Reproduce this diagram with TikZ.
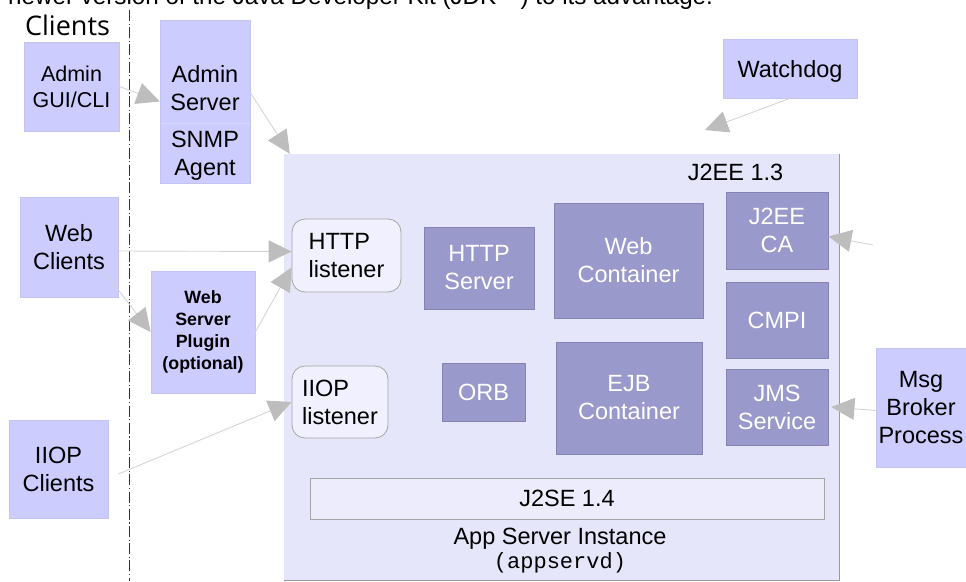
\documentclass[tikz,border=0pt]{standalone}
\usepackage{fontspec}
\setmainfont{Liberation Sans}
\setmonofont{Liberation Mono}
\newfontfamily\clientsfont{Open Sans}
\usetikzlibrary{arrows.meta}
\definecolor{lightc}{HTML}{CCCCFF}
\definecolor{lightb}{HTML}{C4C4F4}
\definecolor{darkc}{HTML}{9999CC}
\definecolor{darkb}{HTML}{8484B4}
\definecolor{appc}{HTML}{E6E6FA}
\definecolor{listc}{HTML}{F0F0FF}
\definecolor{linec}{HTML}{D4D4D4}
\definecolor{tipc}{HTML}{BDBDBD}
\newcommand\mysize{\fontsize{23.5}{28}\selectfont}
\newcommand\smallsize{\fontsize{21.5}{26}\selectfont}
\newcommand\plugsize{\fontsize{17.8}{22}\selectfont\bfseries}
\tikzset{
  lightbox/.style={fill=lightc, draw=lightb, line width=0.6pt, inner sep=0pt, align=center, text=black, font=\mysize},
  darkbox/.style={fill=darkc, draw=darkb, line width=0.8pt, inner sep=0pt, align=center, text=white, font=\mysize},
  listener/.style={fill=listc, draw=gray!70, line width=0.8pt, rounded corners=13pt, inner sep=0pt, align=left, font=\mysize},
  plain/.style={inner sep=0pt, font=\mysize},
  conn/.style={draw=linec, line width=0.9pt, -{Triangle[length=23pt,width=22pt,color=tipc]}},
  single/.style={text depth=0pt}
}
\begin{document}
\begin{tikzpicture}[x=1pt,y=-1pt]
\useasboundingbox (0,0) rectangle (966,581);

% cut-off caption line at the very top
\node[plain, font=\fontsize{24.2}{28}\selectfont, anchor=base west] (caption) at (8,4.5) {newer version of the Java Developer Kit (JDK™) to its advantage.};

% separator
\draw[line width=1pt, black!80, dash pattern=on 11pt off 2.5pt on 1.2pt off 2.5pt] (129,10) -- (129,581);
\node[inner sep=0pt, anchor=base, font=\clientsfont\fontsize{27}{30}\selectfont] (clients) at (67.5,35) {Clients};

% app server instance
\node[fill=appc, inner sep=0pt, minimum width=555pt, minimum height=426pt] (appsrv) at (561.5,367) {};
\draw[gray!80, line width=0.8pt] (appsrv.north east) -- (appsrv.south east) -- (appsrv.south west);
\node[plain, anchor=base] (j2ee) at (735.5,180) {J2EE 1.3};

\node[darkbox, minimum width=149pt, minimum height=115pt] (webcont) at (628.5,260.5) {Web\\Container};
\node[darkbox, minimum width=146pt, minimum height=112pt] (ejbcont) at (629,398) {EJB\\Container};
\node[darkbox, minimum width=102pt, minimum height=77pt] (j2eeca) at (777,230.5) {J2EE\\CA};
\node[darkbox, single, minimum width=102pt, minimum height=76pt] (cmpi) at (777,320) {CMPI};
\node[darkbox, minimum width=102pt, minimum height=76pt] (jms) at (777,407) {JMS\\Service};
\node[darkbox, minimum width=110pt, minimum height=82pt] (httpsrv) at (479,268) {HTTP\\Server};
\node[darkbox, single, minimum width=83pt, minimum height=58pt] (orb) at (483.5,392) {ORB};

\node[listener, minimum width=109pt, minimum height=73pt] (httpl) at (346.5,255.5) {HTTP\\listener};
\node[listener, minimum width=96pt, minimum height=72pt] (iiopl) at (340,402) {IIOP\\listener};

\node[fill=listc!60!appc, draw=gray!70, line width=0.8pt, inner sep=0pt, single, font=\mysize, minimum width=514pt, minimum height=41pt] (j2se) at (567,498.5) {J2SE 1.4};
\node[plain, anchor=base] (appname) at (560,544) {App Server Instance};
\node[plain, anchor=base, font=\ttfamily\fontsize{22}{26}\selectfont] (appd) at (560,568) {(appservd)};

% outside boxes
\node[lightbox, font=\smallsize, minimum width=95pt, minimum height=89pt] (admingui) at (71.5,86.5) {Admin\\GUI/CLI};
\node[lightbox, minimum width=90pt, minimum height=163pt] (adminsrv) at (205,101.5) {};
\draw[white!25!lightc, line width=0.6pt] (160.5,123) -- (249.5,123);
\node[plain, align=center] (adminlbl) at (205,88) {Admin\\Server};
\node[plain, align=center] (snmplbl) at (205,155.5) {SNMP\\Agent};
\node[lightbox, single, minimum width=134pt, minimum height=59pt] (watchdog) at (790,68.5) {Watchdog};
\node[lightbox, minimum width=90pt, minimum height=119pt] (msg) at (921,407.5) {Msg\\Broker\\Process};
\node[lightbox, minimum width=98pt, minimum height=100pt] (webcl) at (69,247) {Web\\Clients};
\node[lightbox, font=\plugsize, minimum width=104pt, minimum height=122pt] (plugin) at (203,332) {Web\\Server\\Plugin\\(optional)};
\node[lightbox, minimum width=99pt, minimum height=98pt] (iiopcl) at (58.5,469) {IIOP\\Clients};

% free ends
\coordinate (wdtip) at (705,130);
\coordinate (casrc) at (873,245);

% connectors
\draw[conn] (admingui.east) -- (adminsrv.west);
\draw[conn] ([yshift=9pt]adminsrv.east) -- ([xshift=6pt]appsrv.north west);
\draw[conn] (watchdog.south) -- (wdtip);
\draw[conn] (casrc) -- ([yshift=-6pt]j2eeca.east);
\draw[conn] ([yshift=-3pt]msg.west) -- ([xshift=3pt]jms.east);
\draw[conn] ([yshift=-4pt]webcl.east) -- ([yshift=4pt]httpl.west);
\draw[conn] ([shift={(-15pt,27pt)}]webcl.south east) -- (plugin.west);
\draw[conn] (plugin.east) -- ([yshift=-12pt]httpl.west);
\draw[conn] ([shift={(10pt,-5pt)}]iiopcl.east) -- (iiopl.west);
\end{tikzpicture}
\end{document}
